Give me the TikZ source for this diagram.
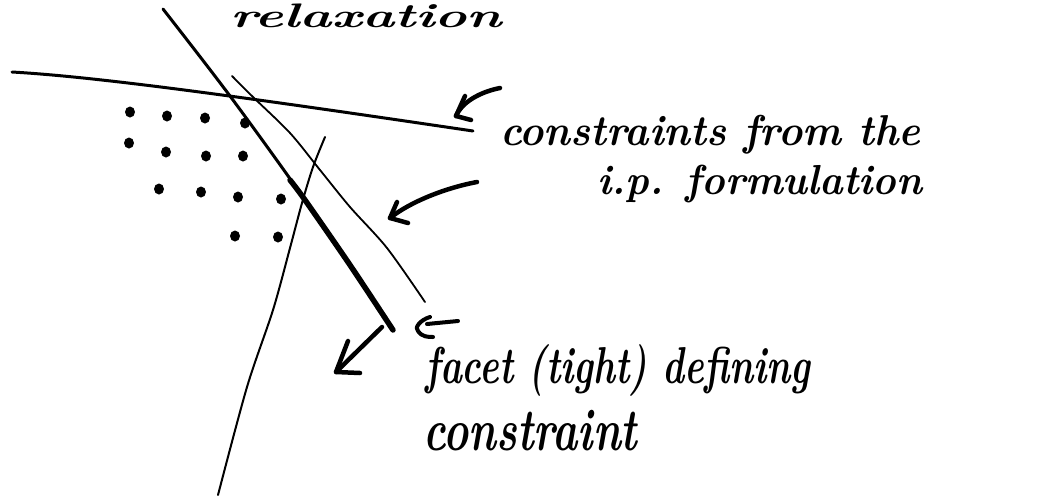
\documentclass[tikz,border=0pt]{standalone}
\newcommand\handtext[3]{\scalebox{1}[#1]{\resizebox{#2}{!}{\fontsize{48}{54}\selectfont\bfseries\itshape #3}}}
\begin{document}
\begin{tikzpicture}[x=1pt,y=-1pt,line cap=round,line join=round,
  hand/.style={inner sep=0pt,anchor=base west},
  pen/.style={line width=4.5pt},
  dot/.style={fill=black,draw=none}]
\useasboundingbox (0,0) rectangle (1063,496);
\clip (0,0) rectangle (1063,496);
% constraint lines
\coordinate (a1) at (12,72);
\coordinate (a2) at (473,131);
\draw[line width=3pt] (a1) .. controls (100,77) and (250,98) .. (a2);
\draw[line width=3pt] plot[smooth] coordinates {(163,9) (230,96) (305,200) (393,330)};
\draw[line width=5.5pt] plot[smooth] coordinates {(290,180) (305,200) (350,265) (393,330)};
\draw[line width=1.8pt] plot[smooth] coordinates {(232,76) (253,97) (290,133) (320,170) (350,207) (387,248) (425,302)};
\draw[line width=2pt] plot[smooth] coordinates {(325,137) (313,167) (302,203) (290,248) (273,310) (247,387) (218,495)};
% integer points
\foreach \p in {(130,112),(167,116),(205,118),(245,123),(129,143),(166,152),(206,156),(243,156),(159,189),(201,192),(238,197),(281,199),(235,236),(278,237)}
  \fill[dot] \p ellipse (5 and 5.5);
% arrows
\coordinate (r1s) at (500,88);
\coordinate (r1t) at (456,116);
\draw[pen] (r1s) .. controls (480,92) and (462,102) .. (r1t);
\draw[pen] (465,96) -- (r1t) -- (471,120);
\coordinate (r2s) at (477,182);
\coordinate (r2t) at (390,218);
\draw[pen] (r2s) .. controls (445,188) and (410,202) .. (r2t);
\draw[pen] (397,202) -- (r2t) -- (408,223);
\coordinate (r3s) at (458,321);
\coordinate (r3t) at (418,331);
\draw[line width=4pt] (r3s) -- (427,324);
\draw[line width=4pt] (430,317) .. controls (420,320) and (414,328) .. (r3t) .. controls (422,337) and (428,337) .. (433,337);
\coordinate (r4s) at (382,327);
\coordinate (r4t) at (336,372);
\draw[pen] (r4s) -- (r4t);
\draw[pen] (348,341) -- (r4t) -- (360,373);
% texts
\node[hand] (top) at (230,27) {\scalebox{1.6}[1]{\fontsize{34}{40}\selectfont\bfseries\itshape relaxation}};
\node[hand] (c1) at (500,145) {\handtext{1.05}{420pt}{constraints from the}};
\node[hand] (c2) at (597,194) {\handtext{1.05}{325pt}{i.p. formulation}};
\node[hand] (f1) at (425,383) {\handtext{1.4}{385pt}{facet (tight) defining}};
\node[hand] (f2) at (423,450) {\handtext{1.4}{214pt}{constraint}};
\end{tikzpicture}
\end{document}
